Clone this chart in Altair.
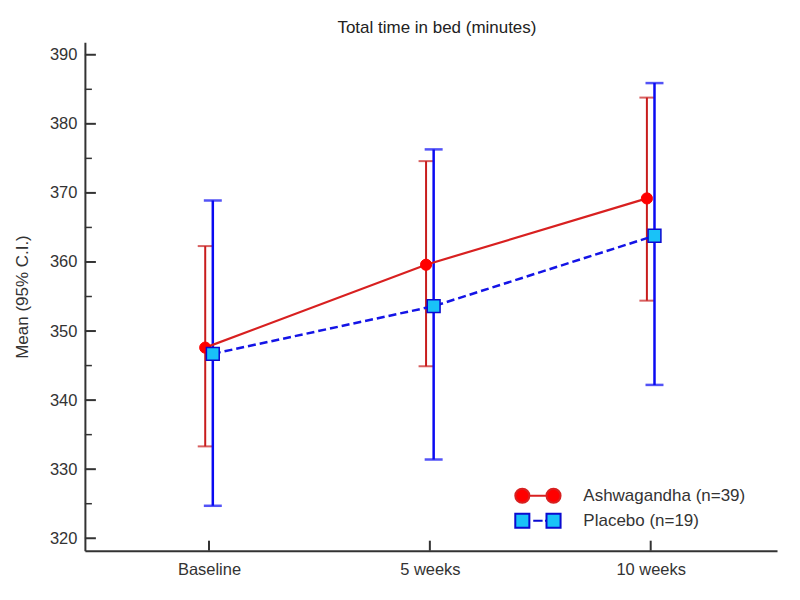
import altair as alt
import pandas as pd

# ---------------- data ----------------
categories = ["Baseline", "5 weeks", "10 weeks"]
series_names = ["Ashwagandha (n=39)", "Placebo (n=19)"]

ash_mean = [347.6, 359.6, 369.2]
ash_lower = [333.3, 344.9, 354.4]
ash_upper = [362.3, 374.6, 383.8]

pla_mean = [346.7, 353.6, 363.8]
pla_lower = [324.7, 331.4, 342.2]
pla_upper = [368.9, 376.3, 385.9]

y_major = [320, 330, 340, 350, 360, 370, 380, 390]
y_minor = [325, 335, 345, 355, 365, 375, 385]

# ---------------- styling ----------------
W, H = 693, 509
FONT = "Liberation Sans"
AXIS_COLOR = "#333333"
ASH_BAR, ASH_LINE, ASH_PT = "#C81C1C", "#D82020", "#FF0000"
PLA_BAR, PLA_LINE, PLA_FILL, PLA_EDGE = "#0A0AF2", "#1414E6", "#19C2F8", "#0A0AD0"
DODGE = 0.0172  # small horizontal dodge between the two groups

rows = []
for s, sgn, means, lows, ups in [
    (series_names[0], -1, ash_mean, ash_lower, ash_upper),
    (series_names[1], 1, pla_mean, pla_lower, pla_upper),
]:
    for i, c in enumerate(categories):
        rows.append(dict(series=s, cat=c, idx=i, x=i + sgn * DODGE,
                         mean=means[i], lo=lows[i], hi=ups[i]))
df = pd.DataFrame(rows)
cats_df = pd.DataFrame({"i": list(range(len(categories)))})
major_df = pd.DataFrame({"v": y_major})
minor_df = pd.DataFrame({"v": y_minor})

xscale = alt.Scale(domain=[-0.562, 2.572], nice=False, zero=False)
yscale = alt.Scale(domain=[318.2, 391.8], nice=False, zero=False)

label_expr = "[" + ",".join("'%s'" % c for c in categories) + "][datum.value]"

x_axis = alt.Axis(values=list(range(len(categories))), labelExpr=label_expr, title=None,
                  ticks=False, grid=False, domainColor=AXIS_COLOR, domainWidth=2,
                  labelFontSize=16.5, labelFont=FONT, labelColor=AXIS_COLOR,
                  labelPadding=11)
y_axis = alt.Axis(values=y_major, title="Mean (95% C.I.)", ticks=False, grid=False,
                  domainColor=AXIS_COLOR, domainWidth=2, labelFontSize=16.5,
                  labelFont=FONT, labelColor=AXIS_COLOR, labelPadding=8,
                  titleFont=FONT, titleFontSize=17, titleFontWeight="normal",
                  titleColor=AXIS_COLOR, titlePadding=18)


def X(field="x"):
    return alt.X(f"{field}:Q", scale=xscale, axis=x_axis)


def Y(field):
    return alt.Y(f"{field}:Q", scale=yscale, axis=y_axis)


base = alt.Chart(df)
ash = base.transform_filter(alt.datum.series == series_names[0])
pla = base.transform_filter(alt.datum.series == series_names[1])

# inward axis ticks
y_major_ticks = alt.Chart(major_df).mark_rule(color=AXIS_COLOR, strokeWidth=2).encode(
    y=Y("v"), x=alt.value(0), x2=alt.value(11))
y_minor_ticks = alt.Chart(minor_df).mark_rule(color=AXIS_COLOR, strokeWidth=1.5).encode(
    y=Y("v"), x=alt.value(0), x2=alt.value(7))
x_ticks = alt.Chart(cats_df).mark_rule(color=AXIS_COLOR, strokeWidth=2).encode(
    x=X("i"), y=alt.value(H), y2=alt.value(H - 10))

# error bars
ash_bar = ash.mark_rule(color=ASH_BAR, strokeWidth=2).encode(x=X(), y=Y("lo"), y2="hi")
pla_bar = pla.mark_rule(color=PLA_BAR, strokeWidth=2.5).encode(x=X(), y=Y("lo"), y2="hi")
ash_caps = ash.transform_fold(["lo", "hi"], as_=["end", "val"]).mark_tick(
    color=ASH_BAR, orient="horizontal", size=15, thickness=2).encode(x=X(), y=Y("val"))
pla_caps = pla.transform_fold(["lo", "hi"], as_=["end", "val"]).mark_tick(
    color=PLA_BAR, orient="horizontal", size=18, thickness=2.5).encode(x=X(), y=Y("val"))

# lines
ash_line = ash.mark_line(color=ASH_LINE, strokeWidth=2.2).encode(x=X(), y=Y("mean"), order="idx:Q")
pla_line = pla.mark_line(color=PLA_LINE, strokeWidth=2.5, strokeDash=[8, 4]).encode(
    x=X(), y=Y("mean"), order="idx:Q")

# markers
ash_pts = ash.mark_point(shape="circle", filled=True, fill=ASH_PT, stroke=ASH_PT,
                         strokeWidth=1, size=125, opacity=1).encode(x=X(), y=Y("mean"))
pla_pts = pla.mark_point(shape="square", filled=True, fill=PLA_FILL, stroke=PLA_EDGE,
                         strokeWidth=1.5, size=165, opacity=1).encode(x=X(), y=Y("mean"))

# legend (line + two markers as symbol)
path_ash = ("M-0.73,0L0.73,0 "
            "M-0.73,0A0.6,0.6 0 1,1 -1.93,0A0.6,0.6 0 1,1 -0.73,0Z "
            "M1.93,0A0.6,0.6 0 1,1 0.73,0A0.6,0.6 0 1,1 1.93,0Z")
path_pla = ("M-1.93,-0.6H-0.73V0.6H-1.93Z "
            "M0.73,-0.6H1.93V0.6H0.73Z "
            "M-0.4,0H0.4 M0.6,0H0.73")
legend = alt.Legend(title=None, orient="none", legendX=440.6, legendY=441, padding=0,
                    rowPadding=0, labelOffset=32.5, symbolSize=552, symbolStrokeWidth=2,
                    labelFont=FONT, labelFontSize=17, labelColor=AXIS_COLOR, labelLimit=0)
legend_layer = base.transform_filter("false").mark_point(filled=True, opacity=1).encode(
    x=X(), y=Y("mean"),
    shape=alt.Shape("series:N", scale=alt.Scale(domain=series_names, range=[path_ash, path_pla]),
                    legend=legend),
    fill=alt.Fill("series:N", scale=alt.Scale(domain=series_names, range=[ASH_PT, PLA_FILL]),
                  legend=legend),
    stroke=alt.Stroke("series:N", scale=alt.Scale(domain=series_names, range=[ASH_LINE, PLA_EDGE]),
                      legend=legend),
)

chart = alt.layer(
    y_major_ticks, y_minor_ticks, x_ticks,
    ash_bar, ash_caps, pla_bar, pla_caps,
    ash_line, pla_line, ash_pts, pla_pts, legend_layer,
).properties(
    width=W, height=H,
    title=alt.TitleParams("Total time in bed (minutes)", font=FONT, fontSize=17,
                          fontWeight="normal", color="#222222", anchor="middle",
                          baseline="bottom", offset=6, dx=6, dy=18),
    autosize=alt.AutoSizeParams(type="none"),
    padding={"left": 77, "top": 34, "right": 15, "bottom": 40},
    background="white",
).configure_view(stroke=None)

chart.save("out.html", embed_options={"renderer": "svg", "actions": False})
